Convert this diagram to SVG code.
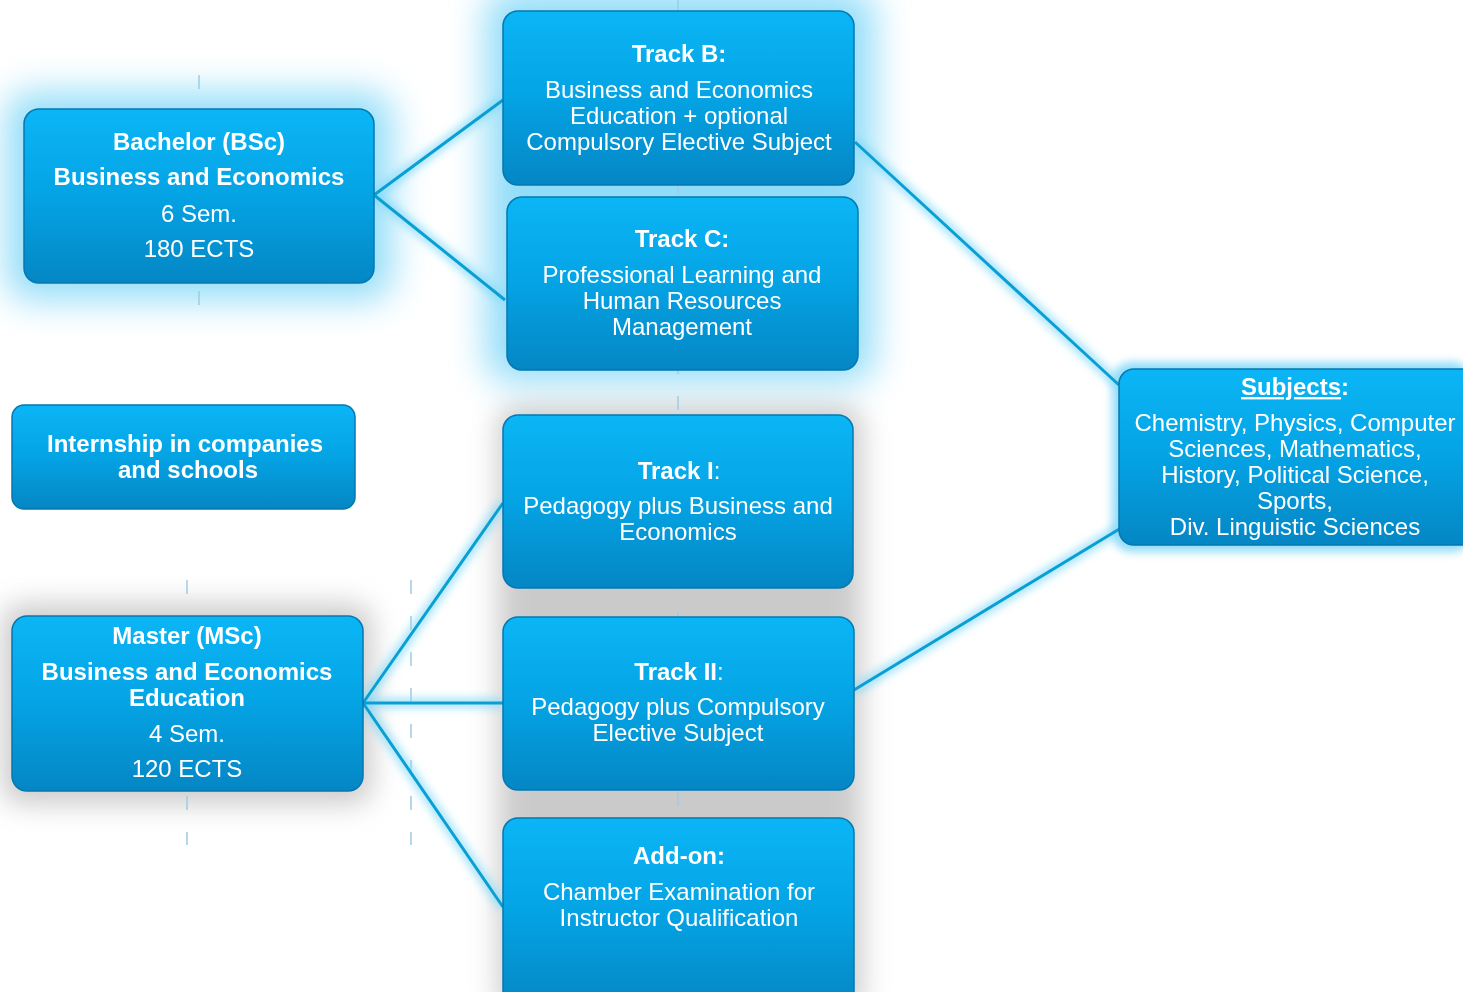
<svg xmlns="http://www.w3.org/2000/svg" width="1463" height="992" viewBox="0 0 1463 992">
<defs>
<linearGradient id="fill" x1="0" y1="0" x2="0" y2="1">
<stop offset="0" stop-color="#0bb6f6"/>
<stop offset="0.5" stop-color="#04a3e4"/>
<stop offset="1" stop-color="#0586c4"/>
</linearGradient>
<filter id="glow" x="-40%" y="-50%" width="180%" height="200%">
<feGaussianBlur stdDeviation="18"/>
</filter>
<filter id="lglow" x="-20%" y="-20%" width="140%" height="140%">
<feGaussianBlur stdDeviation="4"/>
</filter>
<filter id="shadow" x="-30%" y="-40%" width="160%" height="180%">
<feGaussianBlur stdDeviation="14"/>
</filter>
</defs>
<style>
.box{fill:url(#fill);stroke:#0478b0;stroke-width:1.5}
.bglow{fill:#86d9f8;opacity:0.9}
.bshadow{fill:#a8a8a8;opacity:0.6}
text{font-family:"Liberation Sans",Arial,sans-serif;fill:#ffffff;font-size:24px;text-anchor:middle}
.b{font-weight:bold}
.con{stroke:#0a9fd4;stroke-width:3;fill:none}
.cong{stroke:#7fd8f8;stroke-width:10;fill:none;opacity:0.7}
.dash{stroke:#9fcde4;stroke-width:1.5;stroke-dasharray:14 22;fill:none}
</style>
<rect width="1463" height="992" fill="#ffffff"/>

<g id="backdrop">
<rect class="bshadow" x="498" y="405" width="364" height="610" rx="20" filter="url(#shadow)"/>
<rect class="bshadow" x="2" y="604" width="370" height="200" rx="20" filter="url(#shadow)"/>
<rect class="bglow" x="486" y="-10" width="388" height="392" rx="24" filter="url(#glow)"/>
<rect class="bglow" x="6" y="92" width="386" height="208" rx="24" filter="url(#glow)"/>
<rect class="bglow" x="1112" y="362" width="360" height="190" rx="20" filter="url(#lglow)" opacity="0.5"/>
</g>

<g id="guides">
<line class="dash" x1="199" y1="75" x2="199" y2="310"/>
<line class="dash" x1="187" y1="580" x2="187" y2="845"/>
<line class="dash" x1="411" y1="580" x2="411" y2="845"/>
<line class="dash" x1="678" y1="0" x2="678" y2="990"/>
</g>

<g id="connectors">
<g class="glowlines" filter="url(#lglow)">
<line class="cong" x1="374" y1="195" x2="503" y2="100"/>
<line class="cong" x1="374" y1="195" x2="505" y2="300"/>
<line class="cong" x1="855" y1="142" x2="1119" y2="385"/>
<line class="cong" x1="1121" y1="528" x2="854" y2="690"/>
<line class="cong" x1="363" y1="703" x2="503" y2="503"/>
<line class="cong" x1="363" y1="703" x2="503" y2="703"/>
<line class="cong" x1="363" y1="703" x2="503" y2="907"/>
</g>
<line class="con" x1="374" y1="195" x2="503" y2="100"/>
<line class="con" x1="374" y1="195" x2="505" y2="300"/>
<line class="con" x1="855" y1="142" x2="1119" y2="385"/>
<line class="con" x1="1121" y1="528" x2="854" y2="690"/>
<line class="con" x1="363" y1="703" x2="503" y2="503"/>
<line class="con" x1="363" y1="703" x2="503" y2="703"/>
<line class="con" x1="363" y1="703" x2="503" y2="907"/>
</g>

<g id="bachelor">
<rect class="box" x="24" y="109" width="350" height="174" rx="15"/>
<text class="b" x="199" y="150">Bachelor (BSc)</text>
<text class="b" x="199" y="185">Business and Economics</text>
<text x="199" y="222">6 Sem.</text>
<text x="199" y="257">180 ECTS</text>
</g>

<g id="trackB">
<rect class="box" x="503" y="11" width="351" height="174" rx="15"/>
<text class="b" x="679" y="62">Track B:</text>
<text x="679" y="98">Business and Economics</text>
<text x="679" y="124">Education + optional</text>
<text x="679" y="150">Compulsory Elective Subject</text>
</g>

<g id="trackC">
<rect class="box" x="507" y="197" width="351" height="173" rx="15"/>
<text class="b" x="682" y="247">Track C:</text>
<text x="682" y="283">Professional Learning and</text>
<text x="682" y="309">Human Resources</text>
<text x="682" y="335">Management</text>
</g>

<g id="internship">
<rect class="box" x="12" y="405" width="343" height="104" rx="12"/>
<text class="b" x="185" y="452">Internship in companies</text>
<text class="b" x="188" y="478">and schools</text>
</g>

<g id="trackI">
<rect class="box" x="503" y="415" width="350" height="173" rx="15"/>
<text x="679" y="479"><tspan class="b">Track I</tspan>:</text>
<text x="678" y="514">Pedagogy plus Business and</text>
<text x="678" y="540">Economics</text>
</g>

<g id="trackII">
<rect class="box" x="503" y="617" width="351" height="173" rx="15"/>
<text x="679" y="680"><tspan class="b">Track II</tspan>:</text>
<text x="678" y="715">Pedagogy plus Compulsory</text>
<text x="678" y="741">Elective Subject</text>
</g>

<g id="addon">
<rect class="box" x="503" y="818" width="351" height="190" rx="15"/>
<text class="b" x="679" y="864">Add-on:</text>
<text x="679" y="900">Chamber Examination for</text>
<text x="679" y="926">Instructor Qualification</text>
</g>

<g id="master">
<rect class="box" x="12" y="616" width="351" height="175" rx="15"/>
<text class="b" x="187" y="644">Master (MSc)</text>
<text class="b" x="187" y="680">Business and Economics</text>
<text class="b" x="187" y="706">Education</text>
<text x="187" y="742">4 Sem.</text>
<text x="187" y="777">120 ECTS</text>
</g>

<g id="subjects">
<rect class="box" x="1119" y="369" width="360" height="176" rx="15"/>
<text class="b" x="1295" y="395"><tspan text-decoration="underline">Subjects</tspan>:</text>
<text x="1295" y="431">Chemistry, Physics, Computer</text>
<text x="1295" y="457">Sciences, Mathematics,</text>
<text x="1295" y="483">History, Political Science,</text>
<text x="1295" y="509">Sports,</text>
<text x="1295" y="535">Div. Linguistic Sciences</text>
</g>
</svg>
